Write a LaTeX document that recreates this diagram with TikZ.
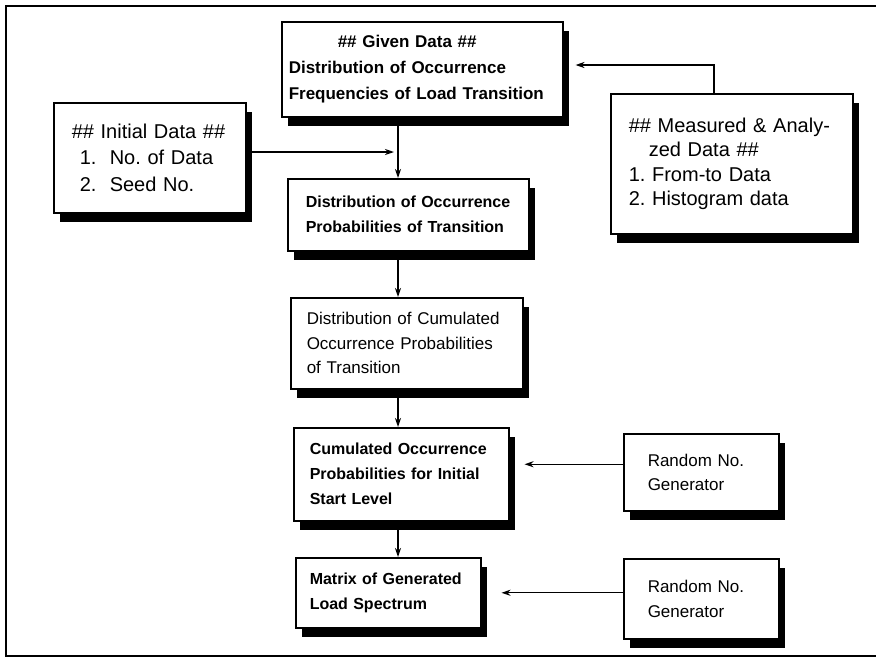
\documentclass[tikz,border=0pt]{standalone}
\usepackage{fontspec}
\setmainfont{Liberation Sans}
\usetikzlibrary{calc, positioning}
\usetikzlibrary{arrows.meta}
\usetikzlibrary{shadows}
\frenchspacing

\begin{document}
\begin{tikzpicture}[x=1pt, y=-1pt,
  box/.style={draw, line width=1.5pt, fill=white, align=left, anchor=north west, inner ysep=0pt,
    drop shadow={shadow xshift=6pt, shadow yshift=-9pt, fill=black, opacity=1}},
  arr/.style={line width=1.4pt, -{Stealth[length=9pt, width=6pt]}},
  heavy/.style={font=\fontsize{16}{25}\selectfont\bfseries},
  plain/.style={font=\fontsize{17}{24.5}\selectfont}]
\useasboundingbox (0,0) rectangle (876,662);
% frame
\draw[line width=2pt] (876,6) -- (6,6) -- (6,656) -- (876,656);
% boxes
\node[box, heavy, font=\fontsize{17}{26}\selectfont\bfseries, inner xsep=7pt, text width=267pt, minimum height=95pt] (given) at (281,21)
  {\hspace*{49pt}\#\# Given Data \#\#\\Distribution of Occurrence\\Frequencies of Load Transition};
\node[box, font=\fontsize{20}{26.5}\selectfont, inner xsep=18pt, text width=156pt, minimum height=110pt] (init) at (53,102)
  {\#\# Initial Data \#\#\\\hspace*{8pt}1.\ \ No. of Data\\\hspace*{8pt}2.\ \ Seed No.};
\node[box, font=\fontsize{20}{24.5}\selectfont, inner xsep=18pt, text width=206pt, minimum height=140pt] (meas) at (610,93)
  {\#\# Measured \& Analy-\\\hspace*{20pt}zed Data \#\#\\1. From-to Data\\2. Histogram data};
\node[box, heavy, inner xsep=18pt, text width=205pt, minimum height=72pt] (dist) at (287,178)
  {Distribution of Occurrence\\Probabilities of Transition};
\node[box, plain, inner xsep=16pt, text width=200pt, minimum height=91pt] (cumdist) at (290,297)
  {Distribution of Cumulated\\Occurrence Probabilities\\of Transition};
\node[box, heavy, inner xsep=16pt, text width=183pt, minimum height=93pt] (cumocc) at (293,427)
  {Cumulated Occurrence\\Probabilities for Initial\\Start Level};
\node[box, heavy, inner xsep=14pt, text width=157pt, minimum height=70pt] (matrix) at (295,557)
  {Matrix of Generated\\Load Spectrum};
\node[box, plain, inner xsep=24pt, text width=107pt, minimum height=77pt] (rand1) at (623,433)
  {Random No.\\Generator};
\node[box, plain, inner xsep=24pt, text width=107pt, minimum height=80pt] (rand2) at (623,558)
  {Random No.\\Generator};
% connectors
\coordinate (col) at (398,0);
\coordinate (jn) at (398,152);
\coordinate (fb) at (714,65);
\draw[arr] (given.south -| col) -- (dist.north -| col);
\draw[arr, shorten >=4pt] (init.east |- jn) -- (jn);
\draw[arr] (dist.south -| col) -- (cumdist.north -| col);
\draw[arr] (cumdist.south -| col) -- (cumocc.north -| col);
\draw[arr] (cumocc.south -| col) -- (matrix.north -| col);
\draw[arr, shorten >=12pt] (meas.north -| fb) -- (fb) -- (fb -| given.east);
\draw[arr, shorten >=15pt] ([yshift=8pt]rand1.west) -- ([yshift=8pt]rand1.west -| cumocc.east);
\draw[arr, shorten >=20pt] ([yshift=6pt]rand2.west) -- ([yshift=6pt]rand2.west -| matrix.east);
\end{tikzpicture}
\end{document}
